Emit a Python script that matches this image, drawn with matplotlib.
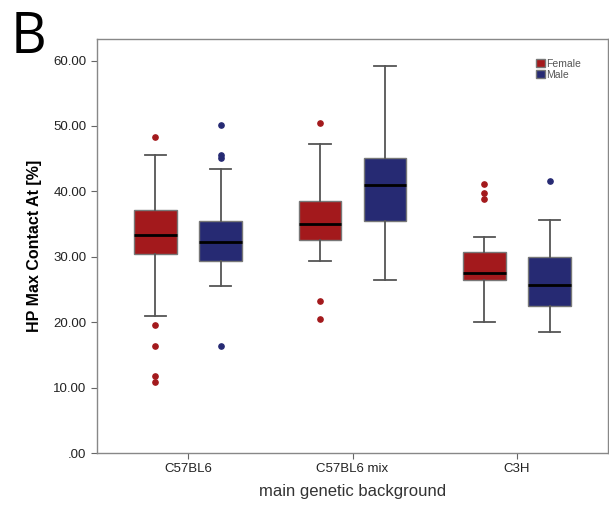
import matplotlib
matplotlib.use("Agg")
import matplotlib.pyplot as plt
from matplotlib.patches import Patch

# data (box plot summary per group)
categories = ["C57BL6", "C57BL6 mix", "C3H"]
sexes = ["Female", "Male"]
colors = {"Female": "#a3191c", "Male": "#262a73"}

# [C57BL6, C57BL6 mix, C3H]
female_whislo = [21.0, 29.4, 20.0]
female_q1 = [30.5, 32.5, 26.4]
female_med = [33.3, 35.0, 27.5]
female_q3 = [37.2, 38.5, 30.7]
female_whishi = [45.5, 47.2, 33.0]
female_fliers = [[48.3, 19.5, 16.3, 11.7, 10.9], [50.5, 23.2, 20.5], [41.2, 39.7, 38.9]]

male_whislo = [25.6, 26.4, 18.5]
male_q1 = [29.4, 35.4, 22.5]
male_med = [32.3, 41.0, 25.7]
male_q3 = [35.4, 45.1, 30.0]
male_whishi = [43.4, 59.1, 35.7]
male_fliers = [[50.1, 45.5, 45.1, 16.4], [], [41.6]]

yticks = [0, 10, 20, 30, 40, 50, 60]
yticklabels = [".00", "10.00", "20.00", "30.00", "40.00", "50.00", "60.00"]

plt.rcParams["font.family"] = ["Liberation Sans", "DejaVu Sans"]

fig = plt.figure(figsize=(6.09, 5.08), dpi=100)
ax = fig.add_axes([97 / 609, 55 / 508, 511 / 609, 414 / 508])

groups = {
    "Female": (female_whislo, female_q1, female_med, female_q3, female_whishi, female_fliers, -0.198),
    "Male": (male_whislo, male_q1, male_med, male_q3, male_whishi, male_fliers, 0.198),
}

for sex in sexes:
    lo, q1, med, q3, hi, fl, off = groups[sex]
    stats = []
    for i in range(len(categories)):
        stats.append({"whislo": lo[i], "q1": q1[i], "med": med[i], "q3": q3[i],
                      "whishi": hi[i], "fliers": fl[i]})
    c = colors[sex]
    ax.bxp(stats, positions=[i + off for i in range(len(categories))], widths=0.26,
           patch_artist=True, showfliers=True,
           boxprops=dict(facecolor=c, edgecolor="#777777", linewidth=1.0),
           medianprops=dict(color="black", linewidth=2.0),
           whiskerprops=dict(color="#555555", linewidth=1.3),
           capprops=dict(color="#555555", linewidth=1.3),
           flierprops=dict(marker="o", markersize=3.8, markerfacecolor=c,
                           markeredgecolor=c, linestyle="none"),
           manage_ticks=False)

ax.set_xlim(-0.553, 2.553)
ax.set_ylim(0, 63.3)
ax.set_xticks(range(len(categories)))
ax.set_xticklabels(categories, fontsize=9.5, color="#222222")
ax.set_yticks(yticks)
ax.set_yticklabels(yticklabels, fontsize=9.5, color="#222222")
ax.tick_params(axis="both", direction="out", length=4, color="#666666")
for s in ax.spines.values():
    s.set_color("#888888")
    s.set_linewidth(1.0)

ax.set_ylabel("HP Max Contact At [%]", fontsize=11.5, fontweight="bold", labelpad=8)
ax.set_xlabel("main genetic background", fontsize=12, color="#333333", labelpad=6)

handles = [Patch(facecolor=colors[s], edgecolor="#777777", label=s) for s in sexes]
leg = ax.legend(handles=handles, loc="upper right", bbox_to_anchor=(0.965, 0.975),
                frameon=False, fontsize=7.5, handlelength=0.8, handleheight=0.9,
                handletextpad=0.1, labelspacing=0.1)
for t in leg.get_texts():
    t.set_color("#555555")

fig.text(11 / 609, 1 - 53 / 508, "B", fontsize=40, family="Open Sans", color="black")

fig.savefig("out.png", dpi=100)
